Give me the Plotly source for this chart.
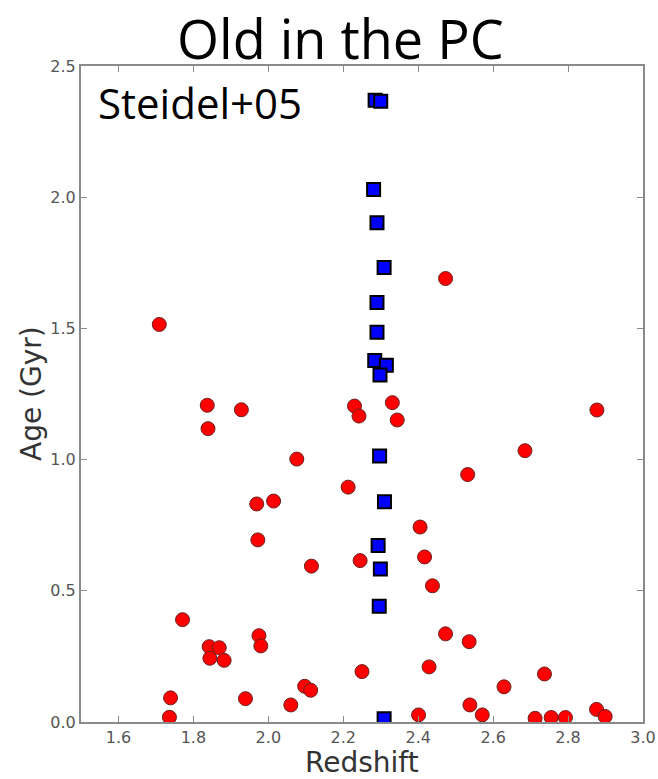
import plotly.graph_objects as go

# Galaxies with best-fit ages (red circles)
red_z = [1.709, 1.739, 1.736, 1.771, 1.837, 1.839, 1.842, 1.844, 1.869, 1.882,
         1.928, 1.939, 1.969, 1.972, 1.975, 1.980, 2.014, 2.060, 2.076, 2.097,
         2.113, 2.115, 2.213, 2.230, 2.242, 2.245, 2.250, 2.331, 2.344, 2.401,
         2.405, 2.417, 2.429, 2.438, 2.473, 2.473, 2.532, 2.536, 2.538, 2.571,
         2.629, 2.685, 2.712, 2.737, 2.755, 2.793, 2.876, 2.877, 2.899]
red_age = [1.515, 0.092, 0.018, 0.390, 1.207, 1.118, 0.287, 0.243, 0.283, 0.235,
           1.190, 0.089, 0.831, 0.694, 0.329, 0.290, 0.842, 0.065, 1.002, 0.136,
           0.121, 0.594, 0.895, 1.204, 1.166, 0.615, 0.192, 1.217, 1.151, 0.027,
           0.743, 0.629, 0.210, 0.519, 0.336, 1.690, 0.943, 0.306, 0.065, 0.027,
           0.134, 1.034, 0.014, 0.183, 0.017, 0.017, 0.048, 1.189, 0.021]

# Protocluster members (blue squares)
pc_z = [2.285, 2.300, 2.281, 2.290, 2.309, 2.290, 2.290, 2.284, 2.315, 2.298,
        2.297, 2.310, 2.293, 2.299, 2.296, 2.309]
pc_age = [2.369, 2.366, 2.029, 1.903, 1.732, 1.599, 1.485, 1.378, 1.360, 1.322,
          1.014, 0.839, 0.673, 0.583, 0.441, 0.012]

x_ticks = [1.6, 1.8, 2.0, 2.2, 2.4, 2.6, 2.8, 3.0]
y_ticks = [0.0, 0.5, 1.0, 1.5, 2.0, 2.5]

fig = go.Figure()
fig.add_trace(go.Scatter(
    x=red_z, y=red_age, mode="markers",
    marker=dict(symbol="circle", size=14, color="#ff0000",
                line=dict(color="#6a2020", width=1)),
    showlegend=False, hoverinfo="x+y"))
fig.add_trace(go.Scatter(
    x=pc_z, y=pc_age, mode="markers",
    marker=dict(symbol="square", size=13, color="#0000ff",
                line=dict(color="#000000", width=2)),
    showlegend=False, hoverinfo="x+y"))

axis_common = dict(
    showline=True, linecolor="#8a8a8a", linewidth=2, mirror="ticks",
    ticks="inside", ticklen=6, tickcolor="#8a8a8a", tickwidth=1,
    showgrid=False, zeroline=False, automargin=False,
    tickfont=dict(family="DejaVu Sans", size=16, color="#555555"),
)

label_font = dict(family="DejaVu Sans", size=28, color="#333333")

fig.update_layout(
    width=658, height=779,
    margin=dict(l=81, r=15, t=66, b=57),
    paper_bgcolor="white", plot_bgcolor="white",
    xaxis=dict(range=[1.5, 3.0], tickvals=x_ticks,
               ticktext=[f"{v:.1f}" for v in x_ticks], **axis_common),
    yaxis=dict(range=[0.0, 2.5], tickvals=y_ticks,
               ticktext=[f"{v:.1f}" for v in y_ticks], **axis_common),
    annotations=[
        dict(text="Old in the PC", xref="paper", yref="paper",
             x=0.461, y=1.0, yanchor="top", yshift=66, showarrow=False,
             borderpad=0, font=dict(family="Open Sans", size=54, color="black")),
        dict(text="Steidel+05", xref="paper", yref="paper",
             x=0.026, y=0.945, xanchor="left", yanchor="middle", showarrow=False,
             font=dict(family="Open Sans", size=42, color="black")),
        dict(text="Redshift", xref="paper", yref="paper",
             x=0.5, y=0.0, yanchor="middle", yshift=-40, showarrow=False,
             font=label_font),
        dict(text="Age (Gyr)", xref="paper", yref="paper",
             x=0.0, y=0.5, xanchor="center", xshift=-50, textangle=-90,
             showarrow=False, font=label_font),
    ],
)

fig.write_html("out.html")
